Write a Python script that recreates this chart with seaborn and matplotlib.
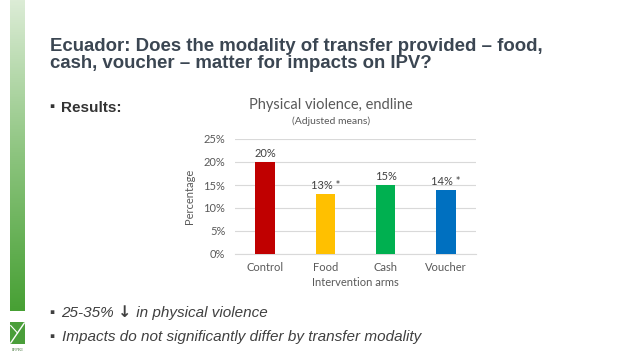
import numpy as np
import pandas as pd
import seaborn as sns
from matplotlib import pyplot as plt
from matplotlib.colors import LinearSegmentedColormap

arms = ["Control", "Food", "Cash", "Voucher"]
values = [0.20, 0.13, 0.15, 0.14]
bar_labels = ["20%", "13% *", "15%", "14% *"]
bar_colors = ["#C00000", "#FFC000", "#00B050", "#0070C0"]
yticks = [0, 0.05, 0.10, 0.15, 0.20, 0.25]

W, H = 638, 359
fig = plt.figure(figsize=(W / 100, H / 100), dpi=100)
fig.patch.set_facecolor("white")


def px(x, y, w, h):
    # pixel box (top-left origin) -> figure fraction
    return [x / W, 1 - (y + h) / H, w / W, h / H]


def fx(x):
    return x / W


def fy(y):
    return 1 - y / H


# green gradient strip on the left
strip = fig.add_axes(px(10, 0, 15, 311))
cmap = LinearSegmentedColormap.from_list("g", ["#dcecd6", "#8cc47e", "#47a034"])
strip.imshow(np.linspace(0, 1, 256).reshape(-1, 1), aspect="auto", cmap=cmap)
strip.axis("off")

# tiny logo stand-in
logo = fig.add_axes(px(10, 322, 15, 22))
logo.set_facecolor("#4a9e3a")
logo.set_xticks([])
logo.set_yticks([])
for s in logo.spines.values():
    s.set_visible(False)
logo.plot([0.2, 0.8], [0.1, 0.9], color="white", lw=1)
logo.plot([0.5, 0.2], [0.5, 0.8], color="white", lw=0.8)
fig.text(fx(17.5), fy(350), "IFPRI", fontsize=3.5, color="#4a7a40",
         ha="center", va="center", family="Liberation Serif")

# slide text
title_color = "#3b4652"
body_color = "#404040"
sans = ["Liberation Sans", "DejaVu Sans"]
fig.text(fx(50.5), fy(51), "Ecuador: Does the modality of transfer provided \u2013 food,",
         fontsize=13.4, fontweight="bold", color=title_color, family=sans, va="baseline")
fig.text(fx(50.5), fy(67.5), "cash, voucher \u2013 matter for impacts on IPV?",
         fontsize=13.4, fontweight="bold", color=title_color, family=sans, va="baseline")

renderer = fig.canvas.get_renderer()


def text_run(x, y, pieces):
    # place text pieces one after another on the same baseline
    for txt, kw in pieces:
        t = fig.text(fx(x), fy(y), txt, va="baseline", **kw)
        x = t.get_window_extent(renderer).x1


italic = dict(fontsize=11, style="italic", color=body_color, family=sans)
arrow = dict(fontsize=11.5, color=body_color, family="DejaVu Sans", fontweight="bold")
bullet = dict(fontsize=10.5, family=sans)

fig.text(fx(49.5), fy(111.5), "\u25aa", color="#333333", va="baseline", **bullet)
fig.text(fx(61.5), fy(111.5), "Results:", fontsize=11, fontweight="bold", color="#333333",
         family=sans, va="baseline")

fig.text(fx(49.5), fy(317.3), "\u25aa", color=body_color, va="baseline", **bullet)
text_run(61.5, 317.3, [("25-35% ", italic), ("\u2193", arrow),
                       (" in physical violence", italic)])

fig.text(fx(49.5), fy(341.5), "\u25aa", color=body_color, va="baseline", **bullet)
fig.text(fx(61.5), fy(341.5), "Impacts do not significantly differ by transfer modality",
         va="baseline", **italic)

# chart
df = pd.DataFrame({"arm": arms, "value": values})
chart_font = ["Lato", "DejaVu Sans"]
grey = "#595959"
ax = fig.add_axes(px(235, 139, 241, 115))
sns.barplot(data=df, x="arm", y="value", hue="arm", palette=bar_colors,
            saturation=1, width=0.32, legend=False, ax=ax, zorder=3)
ax.set_ylim(0, 0.25)
ax.set_xlim(-0.5, 3.5)
ax.set_yticks(yticks)
ax.set_yticklabels([f"{int(round(t * 100))}%" for t in yticks])
ax.grid(axis="y", color="#d9d9d9", lw=0.8, zorder=0)
ax.set_axisbelow(True)
for s in ["top", "right", "left"]:
    ax.spines[s].set_visible(False)
ax.spines["bottom"].set_color("#d9d9d9")
ax.tick_params(axis="y", length=0, labelsize=8, colors=grey, pad=7)
ax.tick_params(axis="x", length=0, labelsize=8, colors=grey, pad=6)
for lab in ax.get_xticklabels() + ax.get_yticklabels():
    lab.set_family(chart_font)
ax.set_xlabel("Intervention arms", fontsize=8, color=grey, family=chart_font, labelpad=3)
ax.set_ylabel("Percentage", fontsize=8, color=grey, family=chart_font, labelpad=6)
for i, (v, lab) in enumerate(zip(values, bar_labels)):
    ax.text(i, v + 0.006, lab, ha="center", va="bottom", fontsize=8, color="#404040",
            family=chart_font)

fig.text(fx(331), fy(105), "Physical violence, endline", fontsize=10.5, color=grey,
         family=chart_font, ha="center", va="center")
fig.text(fx(331), fy(121), "(Adjusted means)", fontsize=7.5, color=grey,
         family=chart_font, ha="center", va="center")

fig.savefig("out.png", dpi=100, facecolor="white")
